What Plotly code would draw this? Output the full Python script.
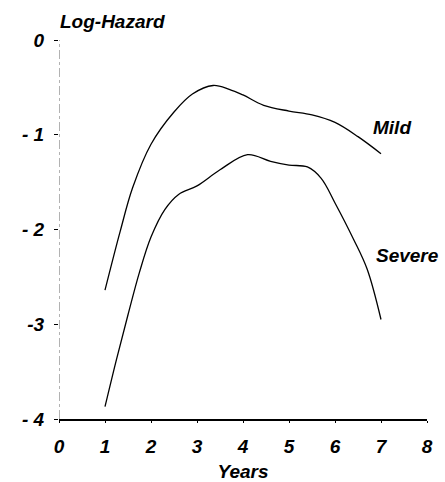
import plotly.graph_objects as go

mild_years = [1.0, 1.33, 1.6, 2.0, 2.5, 2.9, 3.35, 3.7, 4.0, 4.45, 5.0, 5.5, 6.0, 6.5, 7.0]
mild_loghaz = [-2.64, -2.02, -1.56, -1.1, -0.76, -0.57, -0.48, -0.52, -0.58, -0.69, -0.75, -0.79, -0.87, -1.02, -1.2]

severe_years = [1.0, 1.25, 1.5, 1.75, 2.0, 2.3, 2.6, 3.0, 3.5, 4.1, 4.6, 5.0, 5.4, 5.7, 6.0, 6.4, 6.7, 7.0]
severe_loghaz = [-3.87, -3.37, -2.9, -2.45, -2.08, -1.79, -1.63, -1.54, -1.37, -1.21, -1.28, -1.32, -1.34, -1.46, -1.72, -2.1, -2.42, -2.95]

x_ticks = [0, 1, 2, 3, 4, 5, 6, 7, 8]
x_tick_labels = ["0", "1", "2", "3", "4", "5", "6", "7", "8"]
y_ticks = [0, -1, -2, -3, -4]
y_tick_labels = ["0", "- 1", "- 2", "-3", "- 4"]

FONT = "Liberation Sans, Arial, sans-serif"
tickf = dict(family=FONT, size=19, color="black", style="italic", weight="bold")
labf = dict(family=FONT, size=19, color="black", style="italic", weight="bold")

fig = go.Figure()
fig.add_trace(go.Scatter(x=mild_years, y=mild_loghaz, mode="lines",
                         line=dict(color="black", width=1.3, shape="spline", smoothing=1.0),
                         showlegend=False, hoverinfo="skip"))
fig.add_trace(go.Scatter(x=severe_years, y=severe_loghaz, mode="lines",
                         line=dict(color="black", width=1.3, shape="spline", smoothing=1.0),
                         showlegend=False, hoverinfo="skip"))

fig.add_annotation(x=7.24, y=-0.92, text="Mild", showarrow=False,
                   xanchor="center", yanchor="middle", font=labf)
fig.add_annotation(x=7.57, y=-2.27, text="Severe", showarrow=False,
                   xanchor="center", yanchor="middle", font=labf)
fig.add_annotation(x=0, y=1.05, xref="x", yref="paper", text="Log-Hazard", showarrow=False,
                   xanchor="left", yanchor="middle", xshift=-1, font=labf)

# dashed left axis line
fig.add_shape(type="line", x0=0, x1=0, y0=-4, y1=0, xref="x", yref="y",
              line=dict(color="#666", width=1, dash="dashdot"))

fig.update_layout(
    width=445, height=482,
    margin=dict(l=59, r=18, t=40, b=63),
    paper_bgcolor="white", plot_bgcolor="white",
    xaxis=dict(range=[0, 8], tickvals=x_ticks, ticktext=x_tick_labels, showgrid=False,
               zeroline=False, showline=True, linecolor="black", linewidth=1.5,
               ticks="outside", ticklen=2, tickcolor="black", tickfont=tickf,
               ticklabelstandoff=7, automargin=False,
               title=dict(text="Years", font=labf, standoff=11)),
    yaxis=dict(range=[-4, 0], tickvals=y_ticks, ticktext=y_tick_labels, showgrid=False,
               zeroline=False, showline=False, ticks="outside", ticklen=4,
               tickcolor="black", tickfont=tickf, ticklabelstandoff=6, automargin=False),
)

fig.write_html("out.html")
